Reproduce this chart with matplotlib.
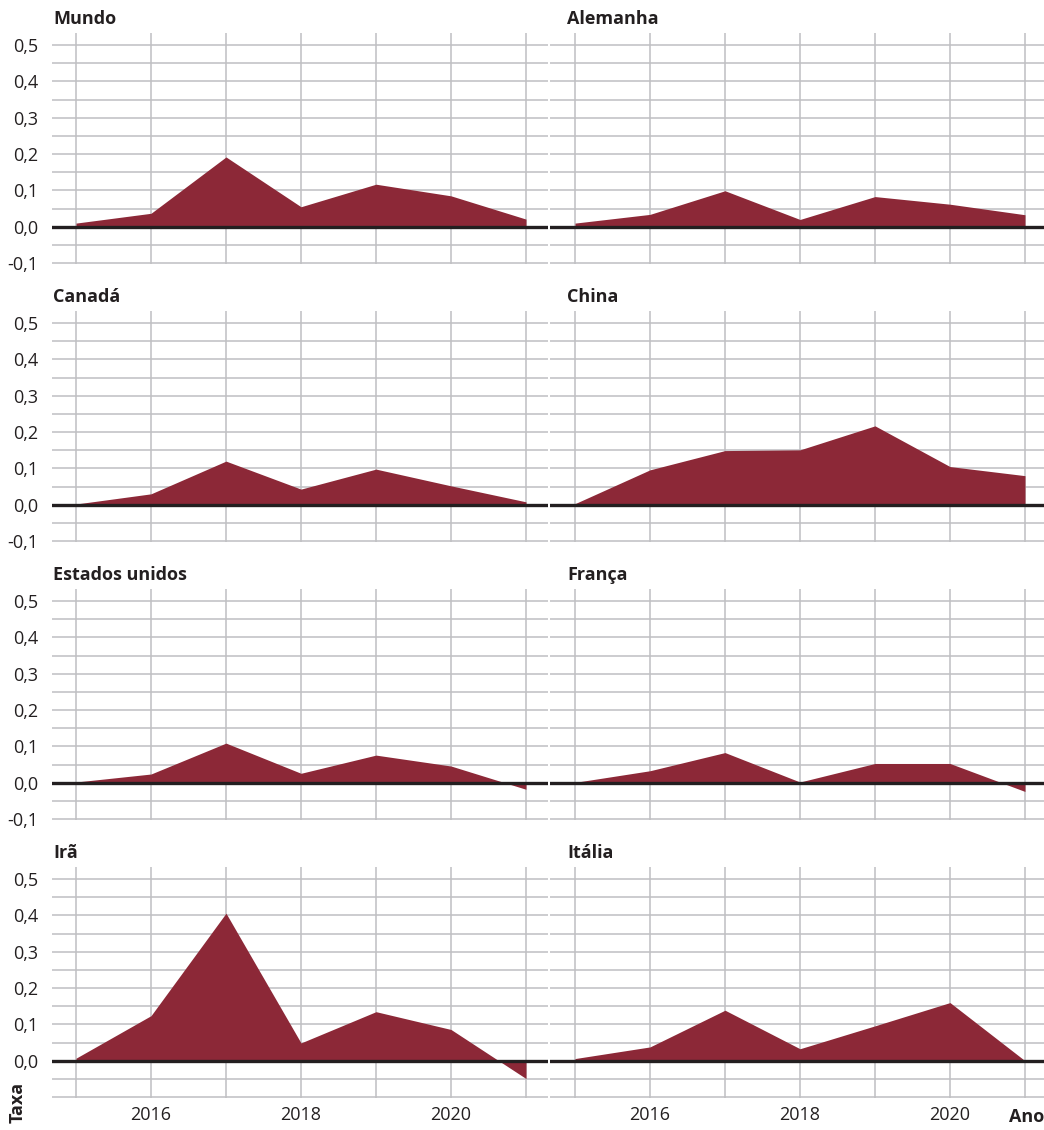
import numpy as np
import matplotlib.pyplot as plt

plt.rcParams['font.family'] = ['Open Sans', 'DejaVu Sans']

years = [2015, 2016, 2017, 2018, 2019, 2020, 2021]
countries = ["Mundo", "Alemanha", "Canadá", "China",
             "Estados unidos", "França", "Irã", "Itália"]

mundo = [0.010, 0.037, 0.192, 0.055, 0.117, 0.085, 0.021]
alemanha = [0.010, 0.034, 0.099, 0.020, 0.083, 0.062, 0.033]
canada = [0.002, 0.030, 0.120, 0.043, 0.098, 0.052, 0.008]
china = [0.003, 0.096, 0.149, 0.151, 0.217, 0.105, 0.080]
eua = [0.002, 0.024, 0.109, 0.026, 0.076, 0.046, -0.018]
franca = [0.001, 0.033, 0.083, 0.002, 0.053, 0.053, -0.024]
ira = [0.007, 0.124, 0.406, 0.049, 0.135, 0.086, -0.049]
italia = [0.006, 0.038, 0.139, 0.033, 0.096, 0.160, 0.000]
series = [mundo, alemanha, canada, china, eua, franca, ira, italia]

y_major = [-0.1, 0.0, 0.1, 0.2, 0.3, 0.4, 0.5]
y_minor = [-0.05, 0.05, 0.15, 0.25, 0.35, 0.45]
x_labels = {2016: "2016", 2018: "2018", 2020: "2020"}

W, H = 1044, 1130
fill_col = "#8c2837"
grid_col = "#bfbfc2"
text_col = "#231f20"

fig = plt.figure(figsize=(W / 100, H / 100), dpi=100)


def px_rect(x0, y_top, w, h):
    return [x0 / W, 1 - (y_top + h) / H, w / W, h / H]


for i, (name, vals) in enumerate(zip(countries, series)):
    row, col = divmod(i, 2)
    top = 33 + 278 * row
    if col == 0:
        ax = fig.add_axes(px_rect(52, top, 496, 231))
        ax.set_xlim(2015 - 24 / 75, 2015 - 24 / 75 + 496 / 75)
    else:
        ax = fig.add_axes(px_rect(550, top, 494, 231))
        ax.set_xlim(2015 - 25 / 75, 2015 - 25 / 75 + 494 / 75)
    ax.set_ylim(-0.1025, 0.533)

    ax.set_yticks(y_major)
    ax.set_yticks(y_minor, minor=True)
    ax.set_xticks(years)
    ax.grid(which="both", axis="both", color=grid_col, linewidth=1.1)
    ax.set_axisbelow(True)
    for s in ax.spines.values():
        s.set_visible(False)
    ax.tick_params(which="both", length=0)

    ax.fill_between(years, vals, 0, color=fill_col, linewidth=0, zorder=2)
    ax.axhline(0, color=text_col, linewidth=2.4, zorder=3)

    if col == 0:
        labels = [f"{v:.1f}".replace(".", ",") for v in y_major]
        if row == 3:
            labels[0] = ""
        ax.set_yticklabels(labels, fontsize=13, color=text_col)
        ax.tick_params(axis="y", pad=10)
    else:
        ax.set_yticklabels([])

    if row == 3:
        ax.set_xticklabels([x_labels.get(y, "") for y in years],
                           fontsize=13, color=text_col)
        ax.tick_params(axis="x", pad=6)
    else:
        ax.set_xticklabels([])

    tx = 53 if col == 0 else 567
    fig.text(tx / W, 1 - (24 + 278 * row) / H, name, fontsize=13,
             fontweight="bold", color=text_col, ha="left", va="baseline")

fig.text(1044 / W, 1 - 1122 / H, "Ano", fontsize=13, fontweight="bold",
         color=text_col, ha="right", va="baseline")
fig.text(27 / W, 1 - 1123 / H, "Taxa", fontsize=13, fontweight="bold",
         color=text_col, ha="right", va="bottom", rotation=90)

fig.savefig("out.png", dpi=100)
